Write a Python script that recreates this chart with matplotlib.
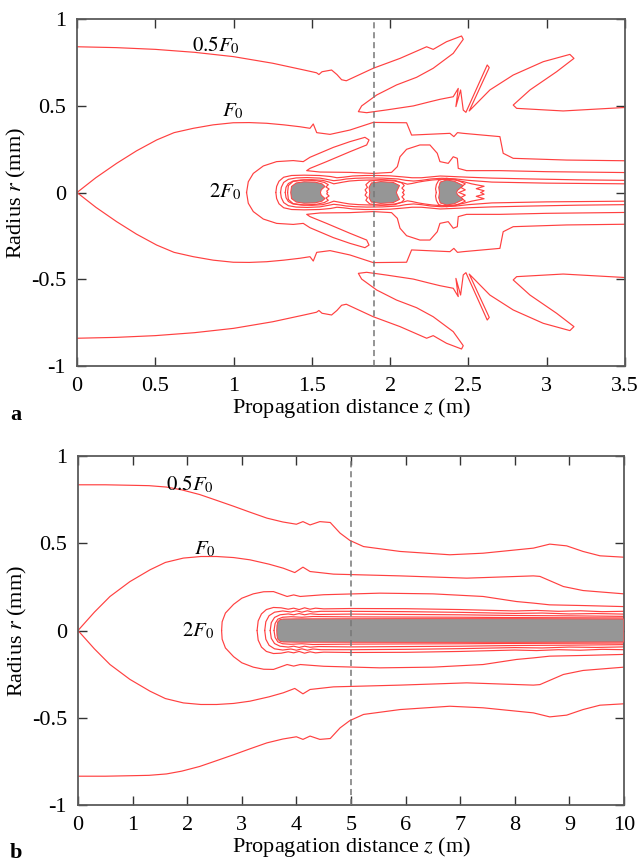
import numpy as np
import matplotlib.pyplot as plt

plt.rcParams['font.family'] = ['Liberation Serif', 'DejaVu Serif']
plt.rcParams['mathtext.fontset'] = 'stix'

RED = '#ff4040'
GRAY = '#969696'

# ---- panel a: upper half of each contour (z in m, r in mm); lower half is mirrored
a_f05 = [(0, 0.84), (0.25, 0.835), (0.5, 0.825), (0.75, 0.808), (1.0, 0.783), (1.25, 0.745),
         (1.45, 0.706), (1.53, 0.69),
         (1.545, 0.68), (1.565, 0.696), (1.626, 0.706), (1.66, 0.68), (1.69, 0.65), (1.72, 0.644),
         (1.892, 0.716), (2.063, 0.773), (2.233, 0.84), (2.275, 0.825), (2.36, 0.869),
         (2.456, 0.902), (2.467, 0.883), (2.403, 0.802), (2.275, 0.716), (2.169, 0.664),
         (2.041, 0.62), (1.914, 0.562), (1.818, 0.499), (1.797, 0.466), (1.85, 0.46),
         (1.978, 0.476), (2.148, 0.499), (2.254, 0.523), (2.318, 0.537), (2.403, 0.552),
         (2.435, 0.600), (2.420, 0.495), (2.450, 0.591), (2.467, 0.475), (2.484, 0.462),
         (2.620, 0.735), (2.633, 0.72), (2.505, 0.47), (2.637, 0.591), (2.786, 0.677),
         (2.978, 0.754), (3.148, 0.796), (3.174, 0.773), (3.063, 0.696), (2.893, 0.591),
         (2.786, 0.504), (2.808, 0.485), (3.105, 0.47), (3.5, 0.49)]
a_f1 = [(0, 0), (0.12, 0.085), (0.253, 0.168), (0.38, 0.24), (0.509, 0.303), (0.62, 0.345),
        (0.743, 0.37), (0.87, 0.39), (0.998, 0.402), (1.1, 0.403), (1.211, 0.399),
        (1.32, 0.39), (1.424, 0.379), (1.488, 0.37),
        (1.509, 0.395), (1.531, 0.345), (1.616, 0.335), (1.743, 0.36), (1.892, 0.404),
        (2.105, 0.402), (2.137, 0.331), (2.382, 0.341), (2.407, 0.322), (2.43, 0.345),
        (2.467, 0.341), (2.701, 0.322), (2.722, 0.226), (2.786, 0.197), (3.127, 0.187),
        (3.5, 0.183)]
a_f2 = [(1.083, 0), (1.094, 0.062), (1.126, 0.11), (1.19, 0.153), (1.275, 0.178),
        (1.381, 0.184), (1.445, 0.178), (1.488, 0.203), (1.637, 0.26), (1.743, 0.293),
        (1.839, 0.318), (1.865, 0.303), (1.85, 0.274), (1.743, 0.235), (1.594, 0.178),
        (1.488, 0.139), (1.467, 0.126), (1.552, 0.118), (1.743, 0.116), (1.892, 0.11),
        (2.009, 0.116), (2.046, 0.149), (2.063, 0.206), (2.105, 0.249), (2.19, 0.274),
        (2.254, 0.274), (2.301, 0.226), (2.318, 0.178), (2.371, 0.168), (2.403, 0.206),
        (2.429, 0.197), (2.435, 0.139), (2.488, 0.126), (2.70, 0.126), (3.0, 0.12),
        (3.5, 0.115)]
a_in1 = [(1.27, 0), (1.275, 0.035), (1.29, 0.065), (1.32, 0.088), (1.37, 0.098), (1.45, 0.10),
         (1.55, 0.098), (1.62, 0.092), (1.66, 0.085), (1.70, 0.088), (1.76, 0.095),
         (1.84, 0.098), (1.92, 0.098), (2.00, 0.096), (2.08, 0.09), (2.14, 0.085),
         (2.20, 0.085), (2.26, 0.09), (2.32, 0.095), (2.40, 0.092), (2.50, 0.088),
         (2.65, 0.083), (2.9, 0.078), (3.2, 0.073), (3.5, 0.07)]
a_in2 = [(1.30, 0), (1.305, 0.03), (1.32, 0.058), (1.35, 0.076), (1.40, 0.084), (1.47, 0.086),
         (1.55, 0.083), (1.60, 0.075), (1.64, 0.068), (1.68, 0.072), (1.72, 0.078),
         (1.78, 0.082), (1.85, 0.084), (1.95, 0.083), (2.05, 0.078), (2.10, 0.07),
         (2.15, 0.066), (2.20, 0.07), (2.26, 0.078), (2.33, 0.082), (2.42, 0.078),
         (2.50, 0.07), (2.65, 0.06), (3.0, 0.054), (3.5, 0.05)]
a_in3 = [(1.33, 0), (1.335, 0.03), (1.35, 0.052), (1.38, 0.066), (1.43, 0.072), (1.50, 0.074),
         (1.57, 0.07), (1.61, 0.06), (1.64, 0.05), (1.67, 0.055), (1.70, 0.06), (1.74, 0.066),
         (1.80, 0.07), (1.87, 0.072), (1.95, 0.072), (2.03, 0.066), (2.08, 0.056),
         (2.11, 0.048), (2.14, 0.052), (2.18, 0.06), (2.22, 0.066), (2.27, 0.072),
         (2.33, 0.076), (2.40, 0.074), (2.47, 0.062), (2.52, 0.05), (2.60, 0.036),
         (2.55, 0.022), (2.60, 0.01), (2.58, 0)]
a_ring1 = [(1.345, 0), (1.35, 0.04), (1.38, 0.064), (1.45, 0.072), (1.53, 0.068), (1.58, 0.058),
           (1.605, 0.045), (1.59, 0.032), (1.61, 0.02), (1.595, 0.008), (1.60, 0)]
a_ring2 = [(1.85, 0), (1.84, 0.015), (1.855, 0.03), (1.845, 0.045), (1.87, 0.066),
           (1.94, 0.074), (2.03, 0.07), (2.075, 0.055), (2.09, 0.04), (2.075, 0.025),
           (2.09, 0.012), (2.08, 0)]
a_ring3 = [(2.295, 0), (2.29, 0.02), (2.295, 0.045), (2.31, 0.07), (2.36, 0.082), (2.42, 0.075),
           (2.48, 0.05), (2.45, 0.03), (2.48, 0.015), (2.44, 0)]
a_blobs = [
    [(1.365, 0), (1.37, 0.035), (1.40, 0.055), (1.45, 0.062), (1.52, 0.06), (1.565, 0.05),
     (1.584, 0.035), (1.56, 0.015), (1.555, 0)],
    [(1.87, 0), (1.865, 0.03), (1.88, 0.055), (1.94, 0.063), (2.02, 0.058), (2.06, 0.04),
     (2.045, 0.012), (2.04, 0)],
    [(2.315, 0), (2.31, 0.03), (2.32, 0.06), (2.36, 0.072), (2.41, 0.065), (2.467, 0.04),
     (2.43, 0.012), (2.425, 0)],
]

# ---- panel b
b_f05 = [(0, 0.835), (0.5, 0.835), (1.0, 0.832), (1.3, 0.83), (1.62, 0.822), (1.9, 0.806),
         (2.23, 0.779), (2.5, 0.75), (2.85, 0.712), (3.15, 0.678), (3.46, 0.644), (3.75, 0.622),
         (4.0, 0.609), (4.12, 0.624), (4.25, 0.605), (4.43, 0.624), (4.62, 0.619),
         (4.80, 0.558), (4.98, 0.516), (5.23, 0.481), (5.90, 0.453), (6.81, 0.434),
         (7.42, 0.443), (8.34, 0.472), (8.64, 0.495), (8.95, 0.485), (9.25, 0.453),
         (9.56, 0.428), (10.0, 0.42)]
b_f1 = [(0, 0), (0.3, 0.105), (0.586, 0.195), (0.95, 0.28), (1.32, 0.348), (1.6, 0.39),
        (1.93, 0.415), (2.25, 0.424), (2.54, 0.424), (2.85, 0.418), (3.15, 0.405),
        (3.5, 0.38), (3.76, 0.357), (3.97, 0.332), (4.12, 0.363), (4.25, 0.338),
        (4.68, 0.323), (5.90, 0.313), (7.12, 0.300), (8.34, 0.313), (8.46, 0.31),
        (8.89, 0.252), (9.25, 0.229), (10.0, 0.21)]
b_f2 = [(2.63, 0), (2.64, 0.05), (2.70, 0.1), (2.85, 0.15), (3.0, 0.185), (3.21, 0.21),
        (3.4, 0.222), (3.58, 0.223), (3.83, 0.195),
        (3.95, 0.204), (4.07, 0.195), (4.5, 0.205), (5.53, 0.214), (6.5, 0.21), (7.42, 0.195),
        (8.03, 0.166), (8.34, 0.157), (8.64, 0.147), (9.25, 0.143), (10.0, 0.137)]
b_in1 = [(3.28, 0), (3.30, 0.055), (3.36, 0.095), (3.45, 0.12), (3.58, 0.132), (3.72, 0.13),
         (3.85, 0.122), (3.95, 0.128), (4.05, 0.12), (4.15, 0.13), (4.25, 0.122),
         (4.35, 0.128), (4.5, 0.124), (5.0, 0.126), (6.0, 0.125), (7.0, 0.12), (7.5, 0.116),
         (8.0, 0.112), (8.4, 0.115), (8.8, 0.11), (9.2, 0.113), (9.6, 0.108), (10.0, 0.11)]
b_in2 = [(3.42, 0), (3.44, 0.05), (3.50, 0.085), (3.60, 0.105), (3.75, 0.112), (3.90, 0.106),
         (4.0, 0.113), (4.1, 0.105), (4.2, 0.113), (4.3, 0.106), (4.45, 0.11), (5.0, 0.11),
         (6.0, 0.108), (7.0, 0.104), (8.0, 0.098), (8.5, 0.1), (9.0, 0.095), (9.5, 0.097),
         (10.0, 0.094)]
b_in3 = [(3.52, 0), (3.54, 0.045), (3.60, 0.075), (3.70, 0.09), (3.85, 0.095), (3.95, 0.09),
         (4.05, 0.097), (4.15, 0.09), (4.25, 0.096), (4.4, 0.092), (5.0, 0.094), (6.0, 0.092),
         (7.0, 0.09), (8.0, 0.086), (9.0, 0.084), (10.0, 0.081)]
b_in4 = [(3.59, 0), (3.61, 0.04), (3.66, 0.065), (3.75, 0.076), (3.9, 0.079), (4.1, 0.076),
         (4.3, 0.08), (5.0, 0.078), (6.0, 0.077), (7.0, 0.076), (8.0, 0.074), (9.0, 0.073),
         (10.0, 0.072)]
b_core = [(3.64, 0), (3.645, 0.03), (3.66, 0.05), (3.70, 0.062), (3.76, 0.066), (4.0, 0.067),
          (6.0, 0.068), (8.0, 0.068), (10.0, 0.066)]

a_xticks = [0, 0.5, 1, 1.5, 2, 2.5, 3, 3.5]
a_xlabels = ['0', '0.5', '1', '1.5', '2', '2.5', '3', '3.5']
b_xticks = list(range(11))
b_xlabels = [str(v) for v in b_xticks]
yticks = [-1, -0.5, 0, 0.5, 1]
ylabels = ['-1', '-0.5', '0', '0.5', '1']


def contour(ax, pts):
    z, r = np.array(pts).T
    ax.plot(z, r, color=RED, lw=0.85)
    ax.plot(z, -r, color=RED, lw=0.85)


def core(ax, pts):
    z, r = np.array(pts).T
    ax.fill(np.r_[z, z[::-1]], np.r_[r, -r[::-1]], facecolor=GRAY,
            edgecolor=RED, lw=0.7, zorder=3)


def style(ax, xlim, xticks, xlabels):
    ax.set_xlim(*xlim)
    ax.set_ylim(-1, 1)
    ax.set_xticks(xticks)
    ax.set_xticklabels(xlabels)
    ax.set_yticks(yticks)
    ax.set_yticklabels(ylabels)
    ax.tick_params(direction='in', length=6.5, width=1.0, top=True, right=True,
                   labelsize=16, color='#333333')
    ax.tick_params(axis='x', pad=8)
    ax.tick_params(axis='y', pad=8)
    for s in ax.spines.values():
        s.set_linewidth(1.3)
        s.set_color('#5a5a5a')
    ax.set_xlabel('Propagation distance $z$ (m)', fontsize=16, labelpad=0)
    ax.set_ylabel('Radius $r$ (mm)', fontsize=16, labelpad=2)


fig = plt.figure(figsize=(6.44, 8.66), dpi=100)
axa = fig.add_axes([77 / 644, 1 - 366 / 866, 548 / 644, 347 / 866])
axb = fig.add_axes([78 / 644, 1 - 805 / 866, 546 / 644, 349 / 866])

for pts in [a_f05, a_f1, a_f2, a_in1, a_in2, a_in3, a_ring1, a_ring2, a_ring3]:
    contour(axa, pts)
for blob in a_blobs:
    core(axa, blob)
axa.axvline(1.9, color='#777777', lw=1.1, ls=(0, (4, 2.5)), zorder=4)
style(axa, (0, 3.5), a_xticks, a_xlabels)
axa.text(0.732, 0.812, r'$0.5F_0$', fontsize=15)
axa.text(0.924, 0.441, r'$F_0$', fontsize=15)
axa.text(0.845, -0.026, r'$2F_0$', fontsize=15)

for pts in [b_f05, b_f1, b_f2, b_in1, b_in2, b_in3, b_in4]:
    contour(axb, pts)
core(axb, b_core)
axb.axvline(5, color='#777777', lw=1.1, ls=(0, (4, 2.5)), zorder=4)
style(axb, (0, 10), b_xticks, b_xlabels)
axb.text(1.606, 0.806, r'$0.5F_0$', fontsize=15)
axb.text(2.13, 0.434, r'$F_0$', fontsize=15)
axb.text(1.91, -0.034, r'$2F_0$', fontsize=15)

fig.text(10 / 644, 1 - 420 / 866, 'a', fontsize=16, fontweight='bold')
fig.text(10 / 644, 1 - 858 / 866, 'b', fontsize=16, fontweight='bold')

fig.savefig('out.png', dpi=100)
